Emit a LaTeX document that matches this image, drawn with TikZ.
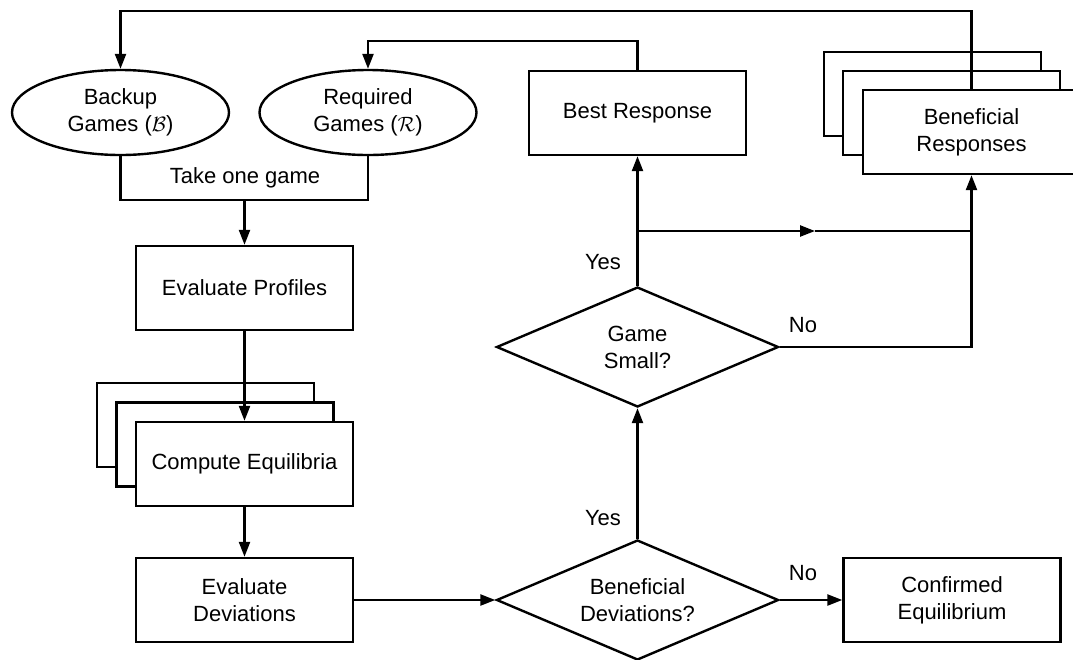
\documentclass[tikz,border=0pt]{standalone}
\usepackage{fontspec}
\setmainfont{Liberation Sans}
\usetikzlibrary{arrows.meta,shapes.geometric}
\begin{document}
\begin{tikzpicture}[x=1pt,y=-1pt,
  every node/.style={font=\fontsize{22}{27}\selectfont},
  ln/.style={line width=2.4pt},
  arr/.style={ln,-{Triangle[length=15pt,width=11pt]}},
  box/.style={draw,ln,fill=white,minimum width=217pt,minimum height=84pt,inner sep=0pt,align=center},
  oval/.style={draw,ln,ellipse,fill=white,minimum width=217pt,minimum height=85pt,inner sep=0pt,align=center},
  dia/.style={draw,ln,diamond,fill=white,shape aspect=2.35,minimum width=282pt,minimum height=120pt,inner sep=0pt,align=center},
  lbl/.style={inner sep=0pt}]
\useasboundingbox (0,0) rectangle (1073,659);
% ellipses
\node[oval] (backup) at (120.5,112.5) {\raisebox{-2pt}{\begin{tabular}{@{}c@{}}Backup\\[-0.5pt]Games ($\mathcal{B}$)\end{tabular}}};
\node[oval] (req) at (368,112.5) {\raisebox{-2pt}{\begin{tabular}{@{}c@{}}Required\\[-0.5pt]Games ($\mathcal{R}$)\end{tabular}}};
% left column
\node[box] (prof) at (244.5,288) {Evaluate Profiles};
\node[box] (ceb) at (205.5,425) {};
\node[box] (cem) at (225,444.5) {};
\node[box] (ce) at (244.5,464) {Compute Equilibria};
\node[box] (dev) at (244.5,600) {Evaluate\\Deviations};
% diamonds
\node[dia] (d1) at (637.5,600) {Beneficial\\Deviations?};
\node[dia] (d2) at (637.5,347) {Game\\Small?};
% right boxes
\node[box] (conf) at (952,600) {Confirmed\\Equilibrium};
\node[box] (best) at (637.5,113) {Best Response};
\node[box] (fbb) at (932.5,94) {};
\node[box] (fbm) at (951.5,113) {};
\node[box] (fb) at (971.5,132) {Beneficial\\Responses};
% helper coordinates
\coordinate (topY) at (0,11);
\coordinate (reqY) at (0,41);
\coordinate (take) at (244.5,200);
\coordinate (brY) at (0,231);
\coordinate (mid) at (815,231);
% connectors
\draw[arr] (fb.north) |- (backup.north |- topY) -- (backup.north);
\draw[arr] (best.north) |- (req.north |- reqY) -- (req.north);
\draw[ln] (backup.south) |- (take) -| (req.south);
\node[lbl] at (245,178) {Take one game};
\draw[arr] (take) -- (prof.north);
\draw[arr] (prof.south) -- (ce.north);
\draw[arr] (ce.south) -- (dev.north);
\draw[arr] (dev.east) -- (d1.west);
\draw[arr] (d1.east) -- (conf.west);
\node[lbl] at (803,573) {No};
\draw[arr] (d1.north) -- (d2.south);
\node[lbl] at (603,518) {Yes};
\draw[arr] (d2.north) -- (best.south);
\node[lbl] at (603,262) {Yes};
\draw[arr] (d2.east) -| (fb.south);
\node[lbl] at (803,325) {No};
\draw[arr] (d2.north |- brY) -- (mid);
\draw[ln] (mid) -- (fb.south |- brY);
\end{tikzpicture}
\end{document}
